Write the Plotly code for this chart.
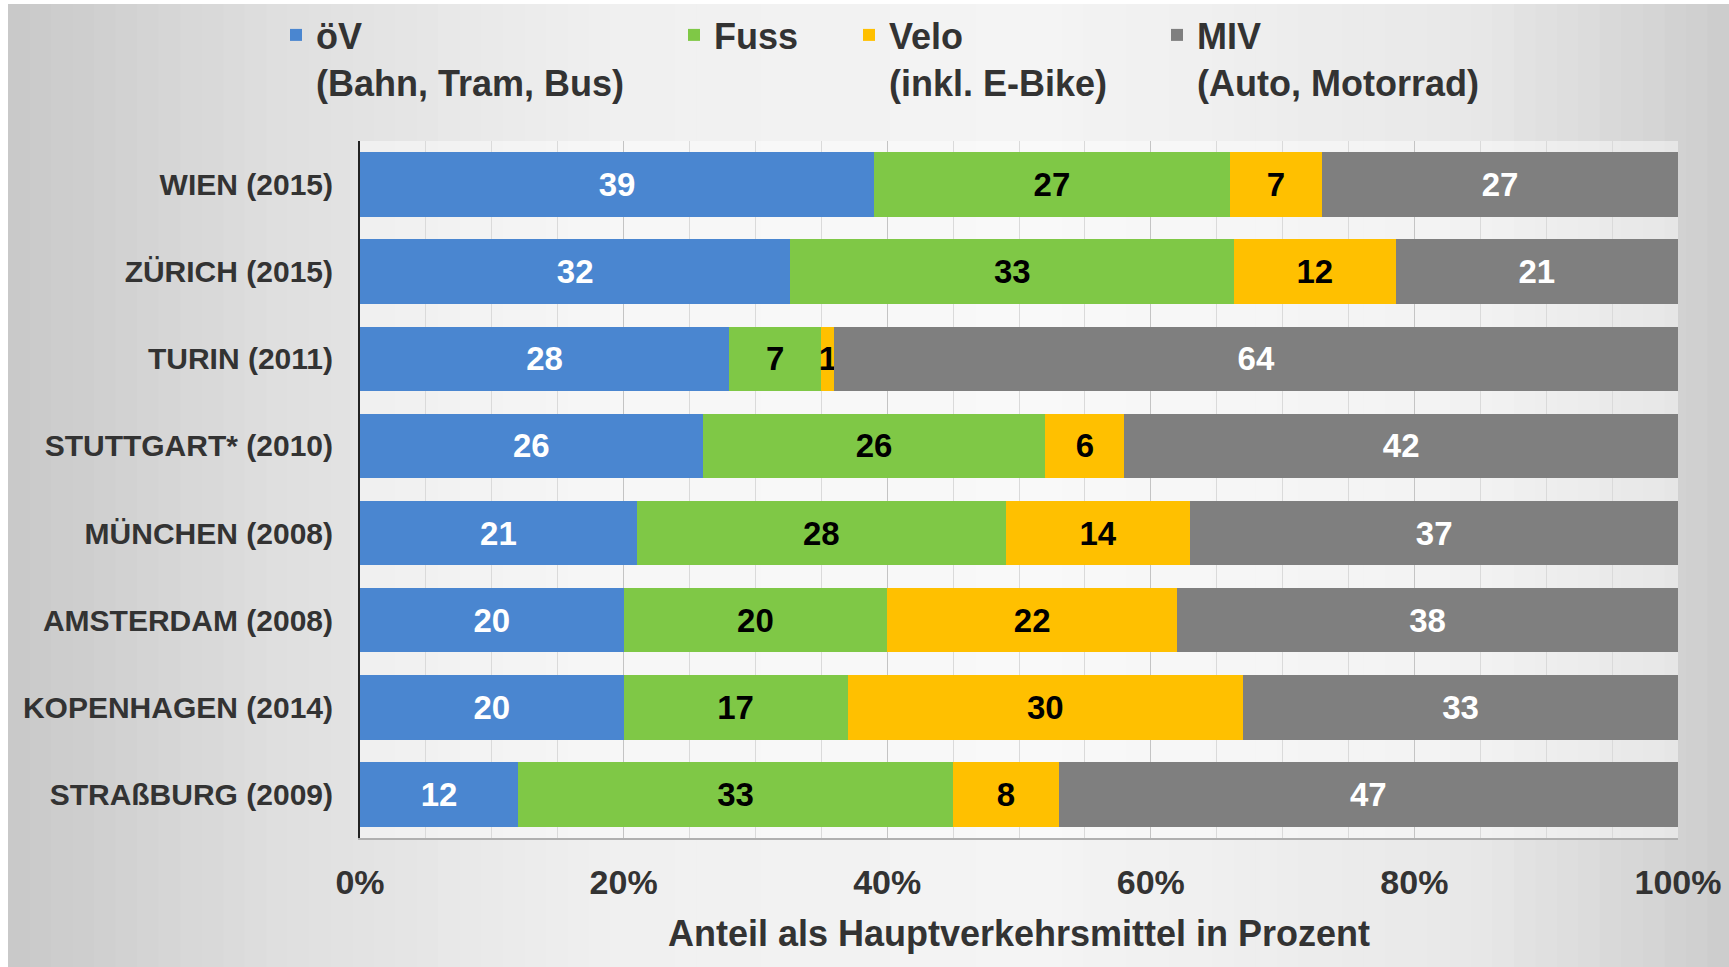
import plotly.graph_objects as go

cities = ["WIEN (2015)", "ZÜRICH (2015)", "TURIN (2011)", "STUTTGART* (2010)",
          "MÜNCHEN (2008)", "AMSTERDAM (2008)", "KOPENHAGEN (2014)", "STRAßBURG (2009)"]
oev = [39, 32, 28, 26, 21, 20, 20, 12]
fuss = [27, 33, 7, 26, 28, 20, 17, 33]
velo = [7, 12, 1, 6, 14, 22, 30, 8]
miv = [27, 21, 64, 42, 37, 38, 33, 47]
series_names = ["öV<br>(Bahn, Tram, Bus)", "Fuss", "Velo<br>(inkl. E-Bike)", "MIV<br>(Auto, Motorrad)"]
tick_vals = [0, 20, 40, 60, 80, 100]
tick_text = ["0%", "20%", "40%", "60%", "80%", "100%"]
x_title = "Anteil als Hauptverkehrsmittel in Prozent"

colors = ["#4A86D0", "#7FC846", "#FFC000", "#7F7F7F"]
text_colors = ["white", "black", "black", "white"]
FONT = "Liberation Sans, Arial, sans-serif"
W, H = 1721, 963
ML, MR, MT, MB = 352, 51, 137, 129
PW, PH = W - ML - MR, H - MT - MB

fig = go.Figure()
legend_ids = ["legend", "legend2", "legend3", "legend4"]
for vals, name, col, tc, lg in zip([oev, fuss, velo, miv], series_names, colors, text_colors, legend_ids):
    fig.add_trace(go.Bar(
        y=cities, x=vals, name=name, orientation="h",
        marker=dict(color=col, line=dict(width=0)),
        text=vals, texttemplate="%{text}", textposition="inside",
        insidetextanchor="middle", constraintext="none",
        textfont=dict(family=FONT, size=33, color=tc, weight="bold"),
        legend=lg, hoverinfo="skip",
    ))

# background gradient (style only)
stops = [(0, (200, 200, 200)), (0.15, (222, 222, 222)), (0.35, (240, 240, 240)),
         (0.6, (244, 244, 244)), (0.85, (232, 232, 232)), (0.95, (214, 214, 214)), (1.0, (204, 204, 204))]
def col_at(t):
    for (t0, c0), (t1, c1) in zip(stops[:-1], stops[1:]):
        if t0 <= t <= t1:
            f = (t - t0) / (t1 - t0) if t1 > t0 else 0
            return "rgb(%d,%d,%d)" % tuple(round(a + (b - a) * f) for a, b in zip(c0, c1))
    return "rgb(204,204,204)"

N = 80
shapes = []
for i in range(N):
    px0 = W * i / N
    px1 = W * (i + 1) / N + 1
    shapes.append(dict(type="rect", xref="paper", yref="paper",
                       x0=(px0 - ML) / PW, x1=(px1 - ML) / PW,
                       y0=-(MB) / PH, y1=1 + MT / PH,
                       fillcolor=col_at((i + 0.5) / N), line=dict(width=0), layer="below"))
# lighter plot panel
shapes.append(dict(type="rect", xref="paper", yref="paper", x0=0, x1=1, y0=0, y1=1,
                   fillcolor="rgba(255,255,255,0.45)", line=dict(width=0), layer="below"))

legend_x_px = [268, 666, 841, 1149]
layout_legends = {}
for lg, xp in zip(legend_ids, legend_x_px):
    layout_legends[lg] = dict(
        x=(xp - ML) / PW, xanchor="left", y=1 + (MT - 1) / PH, yanchor="top",
        orientation="h", bgcolor="rgba(0,0,0,0)", valign="top",
        font=dict(family=FONT, size=36, color="#333333", weight="bold"),
        itemclick=False, itemdoubleclick=False,
    )

fig.update_layout(
    width=W, height=H, barmode="stack", barnorm="percent", bargap=0.26,
    margin=dict(l=ML, r=MR, t=MT, b=MB, autoexpand=False),
    paper_bgcolor="#e6e6e6", plot_bgcolor="rgba(0,0,0,0)",
    shapes=shapes, showlegend=True,
    uniformtext=dict(minsize=33, mode="show"),
    **layout_legends,
)
fig.update_xaxes(
    range=[0, 100], tickvals=tick_vals, ticktext=tick_text,
    tickfont=dict(family=FONT, size=34, color="#333333", weight="bold"),
    showgrid=True, gridcolor="#c4c4c4", gridwidth=1,
    minor=dict(dtick=5, showgrid=True, gridcolor="#dadada", gridwidth=1),
    showline=True, linecolor="#b0b0b0", linewidth=2, mirror=False,
    ticks="", ticklabelstandoff=13, zeroline=False,
    title=dict(text=x_title, standoff=21,
               font=dict(family=FONT, size=36, color="#333333", weight="bold")),
)
fig.update_yaxes(
    autorange="reversed", showline=True, linecolor="#222222", linewidth=2,
    tickfont=dict(family=FONT, size=30, color="#333333", weight="bold"),
    ticks="", ticklabelstandoff=19, showgrid=False,
)
fig.write_html("out.html", post_script="document.body.style.margin='4px 0 0 8px';")
